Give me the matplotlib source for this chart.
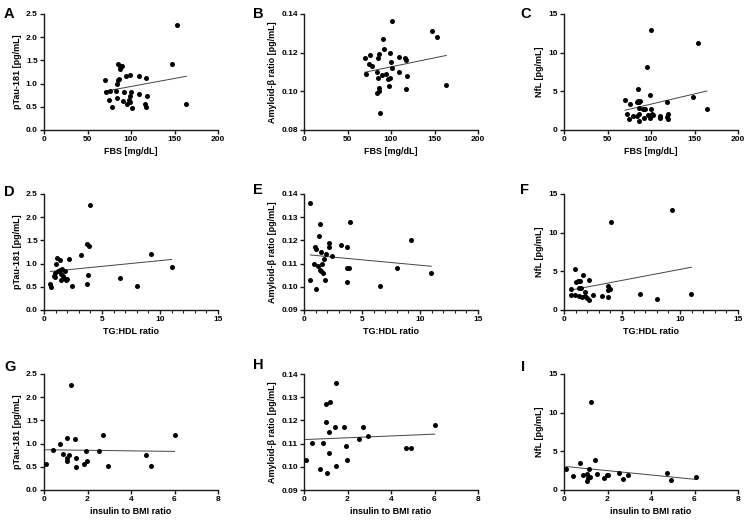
import numpy as np
import matplotlib
matplotlib.use("Agg")
import matplotlib.pyplot as plt
from matplotlib.ticker import MultipleLocator

plt.rcParams['font.family'] = ['Liberation Sans', 'DejaVu Sans']
plt.rcParams['font.weight'] = 'bold'

# ---- Panel A: FBS vs pTau-181
a_x = [69.7, 71.6, 75.5, 74.7, 78.5, 83, 84, 85, 86, 85, 87, 89.5, 87, 84.3, 90.8, 91.5,
       94.6, 98.5, 95.8, 97.7, 98.5, 99.6, 98.5, 101, 109, 109, 117.6, 115.7, 117.6,
       118.8, 147.5, 152.9, 163.6]
a_y = [1.08, 0.82, 0.85, 0.65, 0.49, 0.85, 1.0, 1.07, 1.1, 1.43, 1.39, 1.37, 1.32, 0.69,
       0.62, 0.82, 1.16, 1.18, 0.56, 0.65, 0.74, 0.82, 0.6, 0.48, 1.17, 0.77, 1.12, 0.55,
       0.5, 0.73, 1.43, 2.26, 0.55]
# ---- Panel B: FBS vs Amyloid-beta ratio
b_x = [69.7, 71.6, 74.7, 76.2, 78.5, 83.9, 83.9, 85, 85, 86.2, 86.2, 86.2, 87, 90, 90.8,
       92, 94.6, 96.6, 97.7, 98.5, 99.2, 100.4, 101, 101, 108.8, 109.2, 115.7, 116.9,
       117.6, 118.8, 147.5, 152.9, 163.6]
b_y = [0.1172, 0.1089, 0.114, 0.119, 0.1132, 0.110, 0.099, 0.107, 0.1175, 0.1193, 0.1016,
       0.1002, 0.089, 0.1085, 0.127, 0.122, 0.1089, 0.1066, 0.1028, 0.1071, 0.120, 0.115,
       0.1123, 0.1362, 0.1179, 0.110, 0.1172, 0.1011, 0.116, 0.108, 0.131, 0.1282, 0.1032]
# ---- Panel C: FBS vs NfL
c_x = [70.2, 72.2, 76, 75.2, 79.8, 83.7, 84.8, 83.7, 84.8, 86.7, 85.8, 86.6, 86.6, 87.5,
       90.6, 92.2, 93.3, 95.2, 97.1, 98.3, 99, 99.8, 100.2, 101, 102.1, 109.8, 109.8,
       118.2, 118.2, 119.4, 120, 148.2, 153.5, 164.3]
c_y = [3.82, 2.02, 3.3, 1.46, 1.8, 1.8, 5.24, 3.6, 3.74, 3.6, 2.88, 2.02, 1.16, 3.74, 2.66,
       1.59, 2.66, 8.16, 1.89, 4.47, 1.59, 12.9, 2.75, 2.02, 1.89, 1.8, 1.59, 3.6, 1.68,
       2.02, 1.38, 4.25, 11.26, 2.66]
# ---- Panel D: TG:HDL vs pTau-181
d_x = [0.55, 0.63, 0.92, 0.86, 0.98, 1.01, 1.12, 1.35, 1.21, 1.35, 1.49, 1.49, 1.58, 1.64,
       1.78, 1.72, 1.87, 2.01, 2.16, 2.44, 3.22, 3.74, 3.88, 3.79, 3.74, 3.99, 6.58, 8.02,
       9.25, 11.0]
d_y = [0.566, 0.49, 0.795, 0.74, 0.71, 0.99, 1.12, 1.08, 0.83, 0.87, 0.65, 0.77, 0.88, 0.74,
       0.85, 0.69, 0.65, 0.67, 1.10, 0.51, 1.19, 1.43, 1.39, 0.75, 0.566, 2.27, 0.69, 0.52,
       1.20, 0.92]
# ---- Panel E: TG:HDL vs Amyloid-beta ratio
e_x = [0.55, 0.55, 0.83, 0.92, 1.0, 1.06, 1.21, 1.26, 1.35, 1.41, 1.44, 1.49, 1.58, 1.64,
       1.70, 1.84, 1.93, 2.13, 2.16, 2.44, 3.16, 3.74, 3.71, 3.74, 3.88, 3.94, 6.52, 8.02,
       9.2, 10.98]
e_y = [0.1361, 0.1031, 0.110, 0.1172, 0.0992, 0.1164, 0.1088, 0.122, 0.1071, 0.1269, 0.115,
       0.1067, 0.110, 0.106, 0.1121, 0.1031, 0.1143, 0.1172, 0.119, 0.1131, 0.1182, 0.1172,
       0.1021, 0.1081, 0.1081, 0.1279, 0.1002, 0.1081, 0.120, 0.1061]
# ---- Panel F: TG:HDL vs NfL
f_x = [0.6, 0.6, 0.95, 0.95, 1.04, 1.24, 1.38, 1.32, 1.47, 1.3, 1.53, 1.61, 1.81, 1.81,
       2.02, 2.19, 2.19, 2.48, 3.25, 3.77, 3.83, 3.83, 3.97, 4.03, 6.56, 8.06, 9.3, 10.99]
f_y = [2.75, 1.98, 5.33, 1.98, 3.57, 3.7, 3.78, 2.84, 2.84, 1.85, 1.63, 4.56, 2.28, 1.85,
       1.55, 3.91, 1.33, 1.89, 1.76, 3.05, 2.62, 1.63, 2.75, 11.34, 2.11, 1.42, 12.93, 2.11]
# ---- Panel G: insulin to BMI ratio vs pTau-181
g_x = [0.08, 0.41, 0.72, 0.87, 1.06, 1.07, 1.07, 1.15, 1.23, 1.41, 1.46, 1.49, 1.84, 1.95,
       1.99, 2.53, 2.71, 2.94, 4.7, 4.9, 6.0]
g_y = [0.57, 0.87, 0.99, 0.78, 1.11, 0.69, 0.63, 0.76, 2.27, 1.10, 0.49, 0.69, 0.57, 0.83,
       0.63, 0.83, 1.19, 0.51, 0.75, 0.52, 1.19]
# ---- Panel H: insulin to BMI ratio vs Amyloid-beta ratio
h_x = [0.08, 0.38, 0.72, 0.87, 1.03, 1.03, 1.06, 1.13, 1.13, 1.21, 1.41, 1.46, 1.49, 1.84,
       1.95, 1.99, 2.53, 2.71, 2.94, 4.67, 4.9, 6.01]
h_y = [0.1031, 0.1101, 0.0992, 0.1101, 0.1271, 0.1192, 0.0973, 0.115, 0.106, 0.1279, 0.1172,
       0.1361, 0.1002, 0.1172, 0.1091, 0.1031, 0.1121, 0.1172, 0.1131, 0.1081, 0.1081, 0.1182]
# ---- Panel I: insulin to BMI ratio vs NfL
i_x = [0.09, 0.43, 0.74, 0.89, 1.04, 1.07, 1.12, 1.15, 1.2, 1.23, 1.43, 1.5, 1.86, 1.97,
       2.01, 2.55, 2.73, 2.96, 4.73, 4.93, 6.06]
i_y = [2.67, 1.81, 3.53, 1.98, 2.11, 1.12, 1.55, 2.76, 1.68, 11.38, 3.84, 2.03, 1.55, 1.98,
       1.98, 2.2, 1.38, 1.9, 2.16, 1.34, 1.68]

letters = ['A', 'B', 'C', 'D', 'E', 'F', 'G', 'H', 'I']
xlabels = ['FBS [mg/dL]', 'TG:HDL ratio', 'insulin to BMI ratio']
ylabels = ['pTau-181 [pg/mL]', 'Amyloid-\u03b2 ratio [pg/mL]', 'NfL [pg/mL]']

W, H = 750, 522
fig = plt.figure(figsize=(7.5, 5.22), dpi=100)

lefts = [44, 304, 564]
tops = [14, 194, 374]
aw, ah = 174, 116

data = [(a_x, a_y), (b_x, b_y), (c_x, c_y),
        (d_x, d_y), (e_x, e_y), (f_x, f_y),
        (g_x, g_y), (h_x, h_y), (i_x, i_y)]

xlims = [(0, 200, 50, None), (0, 15, 5, 1), (0, 8, 2, None)]
ylims = {
    (0, 0): (0, 2.5, 0.5, '%.1f'), (0, 1): (0.08, 0.14, 0.02, '%.2f'), (0, 2): (0, 15, 5, '%d'),
    (1, 0): (0, 2.5, 0.5, '%.1f'), (1, 1): (0.09, 0.14, 0.01, '%.2f'), (1, 2): (0, 15, 5, '%d'),
    (2, 0): (0, 2.5, 0.5, '%.1f'), (2, 1): (0.09, 0.14, 0.01, '%.2f'), (2, 2): (0, 15, 5, '%d'),
}
letter_pos = {0: (4, 7), 1: (253, 7), 2: (520, 7),
              3: (4, 185), 4: (253, 183), 5: (520, 183),
              6: (4, 360), 7: (253, 358), 8: (521, 360)}

axcol = '#1a1a1a'
for r in range(3):
    for c in range(3):
        k = r * 3 + c
        x, y = data[k]
        ax = fig.add_axes([lefts[c] / W, 1 - (tops[r] + ah) / H, aw / W, ah / H])
        ax.plot(x, y, 'o', color='black', ms=3.6, mew=0, zorder=3, clip_on=False)
        xx = np.asarray(x)
        slope, icpt = np.polyfit(xx, np.asarray(y), 1)
        xl = np.array([xx.min(), xx.max()])
        ax.plot(xl, icpt + slope * xl, color='#444444', lw=0.7, zorder=2)
        x0, x1, xs, xm = xlims[r]
        ax.set_xlim(x0, x1)
        ax.xaxis.set_major_locator(MultipleLocator(xs))
        if xm:
            ax.xaxis.set_minor_locator(MultipleLocator(xm))
        y0, y1, ys, fmt = ylims[(r, c)]
        ax.set_ylim(y0, y1)
        ax.yaxis.set_major_locator(MultipleLocator(ys))
        ax.yaxis.set_major_formatter(matplotlib.ticker.FormatStrFormatter(fmt))
        for s in ['top', 'right']:
            ax.spines[s].set_visible(False)
        for s in ['left', 'bottom']:
            ax.spines[s].set_linewidth(1.0)
            ax.spines[s].set_color(axcol)
        ax.tick_params(which='major', length=3, width=1.0, color=axcol, labelsize=6, pad=1.5)
        ax.tick_params(which='minor', length=2, width=0.8, color=axcol)
        for lab in ax.get_xticklabels() + ax.get_yticklabels():
            lab.set_fontweight('bold')
        ax.set_xlabel(xlabels[r], fontsize=6.5, fontweight='bold', labelpad=3)
        ax.set_ylabel(ylabels[c], fontsize=6.5, fontweight='bold', labelpad=3)
        lx, ly = letter_pos[k]
        fig.text(lx / W, 1 - ly / H, letters[k], fontsize=10.5, fontweight='bold',
                 ha='left', va='top')

fig.savefig('out.png', dpi=100)
